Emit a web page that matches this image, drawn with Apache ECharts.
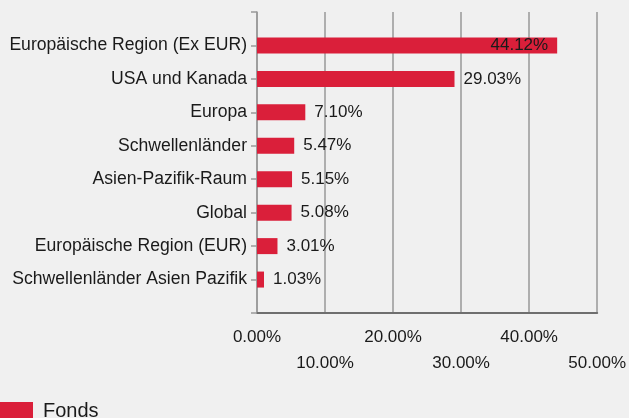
<!DOCTYPE html>
<html>
<head>
<meta charset="utf-8">
<script src="https://cdn.jsdelivr.net/npm/echarts@6/dist/echarts.min.js"></script>
<style>
    html, body { margin: 0; padding: 0; background: #f0f0f0; }
    #chart { width: 629px; height: 418px; }
</style>
</head>
<body>
<div id="chart"></div>
<script>
// Regionen (von oben nach unten)
var categories = [
    'Europäische Region (Ex EUR)',
    'USA und Kanada',
    'Europa',
    'Schwellenländer',
    'Asien-Pazifik-Raum',
    'Global',
    'Europäische Region (EUR)',
    'Schwellenländer Asien Pazifik'
];
// Anteile in %
var fondsValues = [44.12, 29.03, 7.10, 5.47, 5.15, 5.08, 3.01, 1.03];
var seriesName = 'Fonds';
var xTicks = [0, 10, 20, 30, 40, 50];

var fontFamily = 'Arial, "Liberation Sans", sans-serif';
var fontSize = 17;
var textColor = '#1a1a1a';
var lineColor = '#999999';
var barColor = '#da1f3a';

/**
 * leere Kategorien oben und unten, damit die Achse wie im Original aussieht
 */
function buildCategories(){
    return [''].concat(categories).concat(['']);
}

function buildData(){
    var data = [{ value: '-' }];
    for (var i = 0; i < fondsValues.length; i++) {
        var item = { value: fondsValues[i] };
        // der längste Balken trägt sein Label innen
        if (fondsValues[i] > 40) {
            item.label = { position: 'insideRight', distance: 9 };
        }
        data.push(item);
    }
    data.push({ value: '-' });
    return data;
}

var chartObj = echarts.init(document.getElementById('chart'), null, { renderer: 'canvas' });
chartObj.setOption({
    backgroundColor: '#f0f0f0',
    animation: false,
    textStyle: { fontFamily: fontFamily },
    grid: { left: 257, right: 30, top: 12, bottom: 105, containLabel: false },
    legend: {
        left: 0,
        top: 401,
        padding: 0,
        icon: 'rect',
        itemWidth: 33,
        itemHeight: 18,
        itemGap: 10,
        data: [seriesName],
        textStyle: { fontSize: 20, color: textColor, fontFamily: fontFamily, padding: [0, 0, 0, 5] }
    },
    xAxis: {
        type: 'value',
        min: xTicks[0],
        max: xTicks[xTicks.length - 1],
        interval: 10,
        axisLine: { show: true, lineStyle: { color: '#6e6e6e', width: 2 } },
        axisTick: { show: false },
        splitLine: { show: true, lineStyle: { color: lineColor, width: 1.5 } },
        axisLabel: {
            margin: 11,
            fontSize: fontSize,
            lineHeight: 26,
            color: textColor,
            fontFamily: fontFamily,
            // abwechselnd zwei Zeilen
            formatter: function (value, index) {
                var txt = value.toFixed(2) + '%';
                return index % 2 ? '\n' + txt : txt;
            }
        }
    },
    yAxis: {
        type: 'category',
        inverse: true,
        boundaryGap: false,
        data: buildCategories(),
        axisLine: { show: true, lineStyle: { color: lineColor, width: 1.5 } },
        axisTick: { show: true, length: 6, lineStyle: { color: lineColor, width: 1.5 } },
        splitLine: { show: false },
        axisLabel: { margin: 10, fontSize: 17.6, color: textColor, fontFamily: fontFamily }
    },
    series: [{
        name: seriesName,
        type: 'bar',
        barWidth: 16,
        itemStyle: { color: barColor },
        label: {
            show: true,
            position: 'right',
            distance: 9,
            fontSize: fontSize,
            color: textColor,
            fontFamily: fontFamily,
            formatter: function (p) { return Number(p.value).toFixed(2) + '%'; }
        },
        data: buildData()
    }]
});
</script>
</body>
</html>
